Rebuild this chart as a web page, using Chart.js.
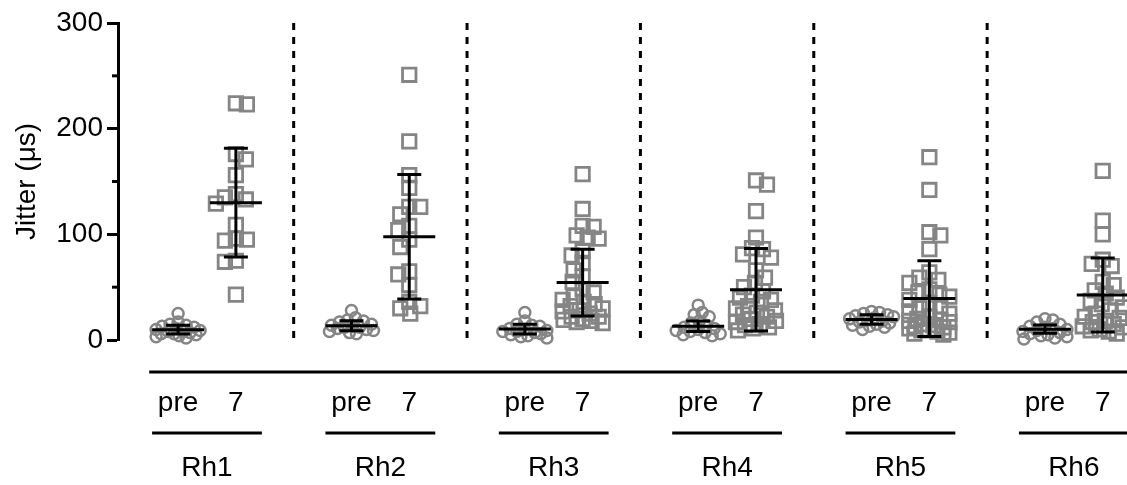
<!DOCTYPE html>
<html>
<head>
<meta charset="utf-8">
<script src="https://cdn.jsdelivr.net/npm/chart.js@4.4.1/dist/chart.umd.min.js"></script>
<style>
  html, body { margin: 0; padding: 0; background: #fff; }
  #wrap { width: 1127px; height: 485px; }
</style>
</head>
<body>
<div id="wrap"><canvas id="chart"></canvas></div>
<script>
// Groups and time points
const groups = ["Rh1", "Rh2", "Rh3", "Rh4", "Rh5", "Rh6"];
const timeLabels = ["pre", "7"];
const yTicks = [0, 100, 200, 300];

// Individual jitter values (µs)
const preValues = [
  [25, 17, 15, 14, 13, 12, 11, 10, 9, 8, 8, 7, 6, 6, 5, 4, 3, 2],
  [28, 21, 19, 18, 17, 15, 14, 13, 12, 12, 11, 10, 9, 8, 7, 6],
  [26, 18, 15, 14, 13, 11, 10, 9, 8, 8, 7, 6, 5, 4, 3, 2],
  [33, 26, 24, 22, 18, 16, 14, 12, 11, 10, 9, 8, 7, 6, 5, 4],
  [27, 26, 25, 24, 23, 22, 21, 20, 19, 18, 17, 16, 15, 14, 13, 12, 10],
  [20, 19, 17, 15, 13, 12, 11, 10, 9, 8, 7, 6, 5, 4, 3, 2, 1],
];
const day7Values = [
  [224, 223, 176, 171, 156, 138, 135, 133, 129, 109, 96, 95, 94, 75, 74, 43],
  [251, 188, 156, 144, 126, 126, 119, 108, 104, 95, 88, 65, 62, 52, 36, 32, 30, 25],
  [157, 124, 108, 107, 99, 97, 96, 84, 80, 73, 66, 60, 55, 48, 45, 41, 38, 36, 34, 32, 30, 28, 27, 25, 22, 22, 20, 19, 18, 17, 16],
  [151, 147, 122, 97, 87, 86, 81, 78, 66, 59, 54, 50, 46, 42, 40, 38, 36, 32, 30, 28, 26, 24, 22, 20, 18, 17, 15, 14, 12, 11, 9],
  [173, 142, 102, 99, 86, 64, 59, 57, 54, 48, 45, 43, 41, 38, 35, 32, 30, 27, 25, 22, 20, 19, 18, 17, 15, 14, 13, 12, 11, 10, 9, 8, 7, 6, 5],
  [160, 113, 100, 76, 72, 70, 55, 52, 47, 44, 40, 37, 34, 31, 28, 25, 22, 21, 18, 17, 15, 13, 12, 10, 9, 8, 6],
];

// Mean and SD bars as drawn in the figure
const preMean = [9.8, 13.5, 10.3, 13, 19.4, 10.2];
const preSD = [4.2, 4.8, 4.6, 5, 4.4, 3.9];
const day7Mean = [130, 97.7, 54.3, 47.5, 39.2, 42.6];
const day7SD = [51.5, 59, 31.7, 39, 35.9, 35];

// x positions: every group takes three slots (divider, pre, 7)
const preSlot = (i) => 1 + 3 * i;
const day7Slot = (i) => 2 + 3 * i;
const dividerSlots = groups.slice(1).map((g, i) => 3 + 3 * i);
const tickSlots = groups.flatMap((g, i) => [preSlot(i), day7Slot(i)]);

const GRAY = "#858585";
const FONT = "'Liberation Sans', Arial, sans-serif";
Chart.defaults.font.family = FONT;
Chart.defaults.color = "#000";

// spread points sideways so they don't pile up (simple beeswarm)
function swarmOffsets(vals, yScale, minDist, maxOff) {
  const placed = [];
  return vals.map((v, i) => {
    const p = yScale.getPixelForValue(v);
    let best = 0, bestGap = -1;
    for (let k = 0; k <= maxOff; k++) {
      const cands = i % 2 ? [k, -k] : [-k, k];
      for (const off of cands) {
        const gap = Math.min(Infinity, ...placed.map((q) => Math.hypot(q.off - off, q.p - p)));
        if (gap >= minDist) {
          placed.push({ off, p });
          return off;
        }
        if (gap > bestGap) { bestGap = gap; best = off; }
      }
    }
    placed.push({ off: best, p });
    return best;
  });
}

const extras = {
  id: "extras",
  beforeDatasetsDraw(chart) {
    const { ctx, scales: { x, y } } = chart;
    ctx.save();
    ctx.strokeStyle = "#000";
    ctx.lineWidth = 3;
    ctx.setLineDash([7, 7]);
    dividerSlots.forEach((s) => {
      const px = x.getPixelForValue(s);
      ctx.beginPath();
      ctx.moveTo(px, y.getPixelForValue(300));
      ctx.lineTo(px, y.getPixelForValue(0));
      ctx.stroke();
    });
    ctx.restore();
  },
  afterDatasetsDraw(chart) {
    const { ctx, scales: { x, y } } = chart;
    ctx.save();
    ctx.strokeStyle = "#000";
    ctx.lineWidth = 3;
    const bar = (slot, m, sd) => {
      const px = x.getPixelForValue(slot);
      const ym = y.getPixelForValue(m), yt = y.getPixelForValue(m + sd), yb = y.getPixelForValue(Math.max(0, m - sd));
      ctx.beginPath();
      ctx.moveTo(px - 26, ym); ctx.lineTo(px + 26, ym);
      ctx.moveTo(px, yt); ctx.lineTo(px, yb);
      ctx.moveTo(px - 12, yt); ctx.lineTo(px + 12, yt);
      ctx.moveTo(px - 12, yb); ctx.lineTo(px + 12, yb);
      ctx.stroke();
    };
    groups.forEach((g, i) => {
      bar(preSlot(i), preMean[i], preSD[i]);
      bar(day7Slot(i), day7Mean[i], day7SD[i]);
    });
    ctx.restore();
  },
  afterDraw(chart) {
    const { ctx, chartArea, scales: { x, y } } = chart;
    ctx.save();
    ctx.strokeStyle = "#000";
    ctx.lineWidth = 3;
    // minor y ticks
    [50, 150, 250].forEach((v) => {
      const py = y.getPixelForValue(v);
      ctx.beginPath();
      ctx.moveTo(chartArea.left - 6, py);
      ctx.lineTo(chartArea.left, py);
      ctx.stroke();
    });
    // detached x axis line
    const axisY = chartArea.bottom + 32;
    ctx.beginPath();
    ctx.moveTo(x.getPixelForValue(0.5), axisY);
    ctx.lineTo(chart.width, axisY);
    ctx.stroke();
    // group underlines and names
    const lineY = chartArea.bottom + 93;
    ctx.font = "28px " + FONT;
    ctx.fillStyle = "#000";
    ctx.textAlign = "center";
    ctx.textBaseline = "middle";
    groups.forEach((g, i) => {
      ctx.beginPath();
      ctx.moveTo(x.getPixelForValue(preSlot(i) - 0.45), lineY);
      ctx.lineTo(x.getPixelForValue(day7Slot(i) + 0.45), lineY);
      ctx.stroke();
      ctx.fillText(g, x.getPixelForValue(preSlot(i) + 0.5), chartArea.bottom + 128);
    });
    ctx.restore();
  },
};

const ctx = document.getElementById("chart").getContext("2d");
const chart = new Chart(ctx, {
  type: "scatter",
  data: {
    datasets: [
      {
        label: "pre",
        data: preValues.flatMap((vals, i) => vals.map((v) => ({ x: preSlot(i), y: v }))),
        pointStyle: "circle",
        pointRadius: 5.5,
        borderWidth: 2.5,
        borderColor: GRAY,
        backgroundColor: "rgba(0,0,0,0)",
        clip: false,
      },
      {
        label: "7",
        data: day7Values.flatMap((vals, i) => vals.map((v) => ({ x: day7Slot(i), y: v }))),
        pointStyle: "rect",
        pointRadius: 9.5,
        borderWidth: 2.8,
        borderColor: GRAY,
        backgroundColor: "rgba(0,0,0,0)",
        clip: false,
      },
    ],
  },
  options: {
    responsive: true,
    maintainAspectRatio: false,
    animation: false,
    layout: { autoPadding: false, padding: { top: 23, right: 0, bottom: 0, left: 0 } },
    plugins: { legend: { display: false }, tooltip: { enabled: false } },
    scales: {
      x: {
        type: "linear",
        min: -0.04,
        max: 17.42,
        afterBuildTicks: (s) => { s.ticks = tickSlots.map((v) => ({ value: v })); },
        afterFit: (s) => { s.height = 145; s.paddingLeft = 0; s.paddingRight = 0; },
        ticks: {
          autoSkip: false,
          maxRotation: 0,
          padding: 0,
          font: { size: 28 },
          color: "#000",
          callback: (v) => timeLabels[(v - 1) % 3],
        },
        grid: { display: false, drawTicks: true, tickLength: 46 },
        border: { display: false },
      },
      y: {
        min: 0,
        max: 300,
        afterBuildTicks: (s) => { s.ticks = yTicks.map((v) => ({ value: v })); },
        afterFit: (s) => { s.width = 118; },
        ticks: { padding: 4, font: { size: 28 }, color: "#000" },
        grid: { drawOnChartArea: false, tickLength: 11, tickWidth: 3, tickColor: "#000" },
        border: { color: "#000", width: 3 },
        title: { display: true, text: "Jitter (μs)", font: { size: 28 }, color: "#000", padding: { top: 10, bottom: 0 } },
      },
    },
  },
  plugins: [extras],
});

// second pass: place the points once the scales are known
(function placePoints() {
  const { x, y } = chart.scales;
  const pxPerSlot = x.getPixelForValue(1) - x.getPixelForValue(0);
  chart.data.datasets[0].data = preValues.flatMap((vals, i) => {
    const offs = swarmOffsets(vals, y, 8, 22);
    return vals.map((v, j) => ({ x: preSlot(i) + offs[j] / pxPerSlot, y: v }));
  });
  chart.data.datasets[1].data = day7Values.flatMap((vals, i) => {
    const offs = swarmOffsets(vals, y, 11, 20);
    return vals.map((v, j) => ({ x: day7Slot(i) + offs[j] / pxPerSlot, y: v }));
  });
  chart.update("none");
})();
</script>
</body>
</html>
